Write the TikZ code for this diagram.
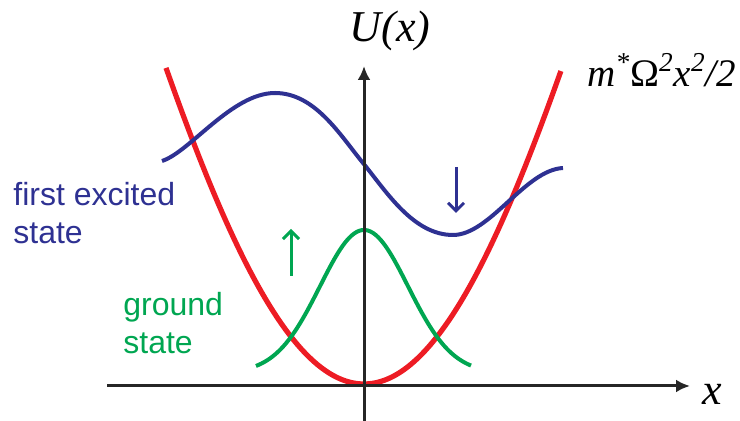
\documentclass[tikz,border=0pt]{standalone}
\usepackage{fontspec}
\setmainfont{Liberation Sans}
\newfontfamily\mathserif{Liberation Serif}
\usetikzlibrary{arrows.meta}
\definecolor{potred}{RGB}{237,28,36}
\definecolor{excblue}{RGB}{46,49,146}
\definecolor{gndgreen}{RGB}{0,166,81}
\tikzset{
  axis/.style={
    line width=1.5pt,
    black!85,
    -{Latex[length=7pt,width=6.5pt]}
  },
  potential/.style={
    line width=2.6pt,
    potred
  },
  wavefn/.style={
    line width=2pt
  },
  shiftarrow/.style={
    line width=1.5pt,
    -{Straight Barb[length=4pt,width=8pt]}
  },
  statelabel/.style={
    align=left,
    anchor=north west,
    inner sep=0pt,
    font=\fontsize{16}{19}\selectfont
  },
  mathlabel/.style={
    inner sep=0pt,
    font=\mathserif\itshape\fontsize{22}{22}\selectfont
  }
}
\def\vertexX{364}
\def\vertexY{384}

\begin{document}
\begin{tikzpicture}[x=0.5pt,y=-0.5pt]
  % pixel grid of the reference, y pointing down
  \useasboundingbox (0,0) rectangle (740,421);

  % trap potential
  \draw[potential] plot[domain=-1.98:1.97, samples=100]
    ({\vertexX+100*\x}, {\vertexY-90*\x*\x+2.39*\x*\x*\x*\x});

  % first excited state
  \draw[wavefn, excblue] (162,161) .. controls (190,152) and (232,93) .. (275,93)
    .. controls (315,93) and (340,135) .. (363,163)
    .. controls (386,191) and (413,235) .. (453,235)
    .. controls (490,235) and (525,170) .. (563,168);

  % ground state
  \draw[wavefn, gndgreen] plot[domain=-108:107, samples=80]
    ({\vertexX+\x}, {373-143*exp(-(\x/10)*(\x/10)/38.72)});

  % axes
  \coordinate (xaxisstart) at (107,386);
  \coordinate (xaxisend)   at (690,386);
  \coordinate (yaxisstart) at (364,421);
  \coordinate (yaxisend)   at (364,66);
  \draw[axis] (xaxisstart) -- (xaxisend);
  \draw[axis] (yaxisstart) -- (yaxisend);

  % shifts of the two levels
  \coordinate (gndtail) at (291,276);
  \coordinate (gndtip)  at (291,229);
  \coordinate (exctail) at (456,167);
  \coordinate (exctip)  at (456,213);
  \draw[shiftarrow, gndgreen] (gndtail) -- (gndtip);
  \draw[shiftarrow, excblue]  (exctail) -- (exctip);

  % labels
  \node[mathlabel] (ulabel) at (390,31) {U(x)};
  \node[mathlabel, anchor=base] (xlabel) at (712,405) {x};
  \node[mathlabel, anchor=base west, font=\mathserif\itshape\fontsize{19.5}{20}\selectfont] (potlabel) at (587,87)
    {m\textsuperscript{*}{\upshape Ω}\textsuperscript{2}x\textsuperscript{2}/2};
  \node[statelabel, text=excblue] (exclabel) at (13,182) {first excited\\state};
  \node[statelabel, text=gndgreen] (gndlabel) at (123,292) {ground\\state};
\end{tikzpicture}
\end{document}
